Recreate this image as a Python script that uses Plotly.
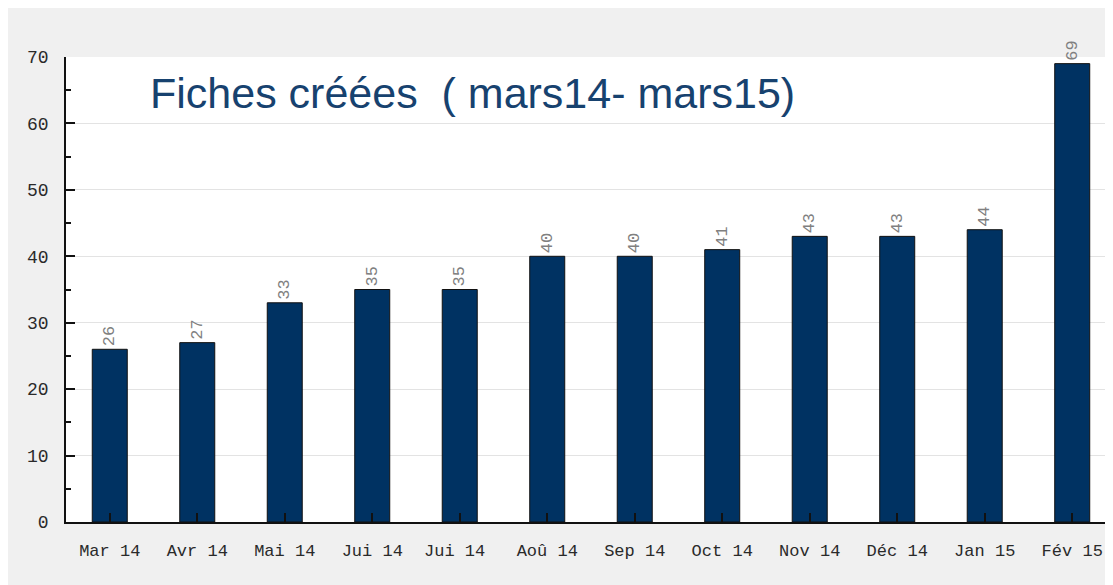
import plotly.graph_objects as go

mois = ['Mar 14', 'Avr 14', 'Mai 14', 'Jui 14', 'Jui 14 ', 'Aoû 14', 'Sep 14',
        'Oct 14', 'Nov 14', 'Déc 14', 'Jan 15', 'Fév 15']
fiches = [26, 27, 33, 35, 35, 40, 40, 41, 43, 43, 44, 69]

mono = 'Liberation Mono'

fig = go.Figure(go.Bar(
    x=list(range(len(mois))), y=fiches,
    width=0.4,
    marker=dict(color='#003262', line=dict(color='#111111', width=1)),
    text=[str(v) for v in fiches], textposition='outside', textangle=-90,
    textfont=dict(family=mono, size=17, color='#808080'),
    cliponaxis=False,
))

fig.add_annotation(text='Fiches créées  ( mars14- mars15)',
                   xref='paper', yref='paper', x=0.078, y=0.923,
                   xanchor='left', yanchor='middle', showarrow=False,
                   font=dict(family='Liberation Sans', size=43, color='#17426f'))

# la page a une marge de 8 px : la figure commence à (8, 8)
fig.update_layout(
    width=1105, height=577,
    margin=dict(l=58, r=0, t=49, b=63),
    paper_bgcolor='#f0f0f0', plot_bgcolor='white',
    showlegend=False,
)
fig.update_xaxes(
    tickmode='array', tickvals=list(range(len(mois))), ticktext=mois,
    range=[-0.5, 11.466], showgrid=False,
    ticks='inside', ticklen=9, tickcolor='#111111', tickwidth=1.5,
    tickson='boundaries',
    showline=True, linecolor='#111111', linewidth=1.5,
    tickfont=dict(family=mono, size=17, color='#2a2a2a'),
    ticklabelstandoff=12, zeroline=False,
)
fig.update_yaxes(
    range=[0, 70], dtick=10, showgrid=True, gridcolor='#e3e3e3', gridwidth=1,
    ticks='inside', ticklen=9, tickcolor='#111111', tickwidth=1.5,
    minor=dict(dtick=5, ticks='inside', ticklen=5, tickcolor='#111111', showgrid=False),
    showline=True, linecolor='#111111', linewidth=1.5,
    tickfont=dict(family=mono, size=18, color='#2a2a2a'),
    ticklabelstandoff=12, zeroline=False,
)

fig.write_html('out.html')
